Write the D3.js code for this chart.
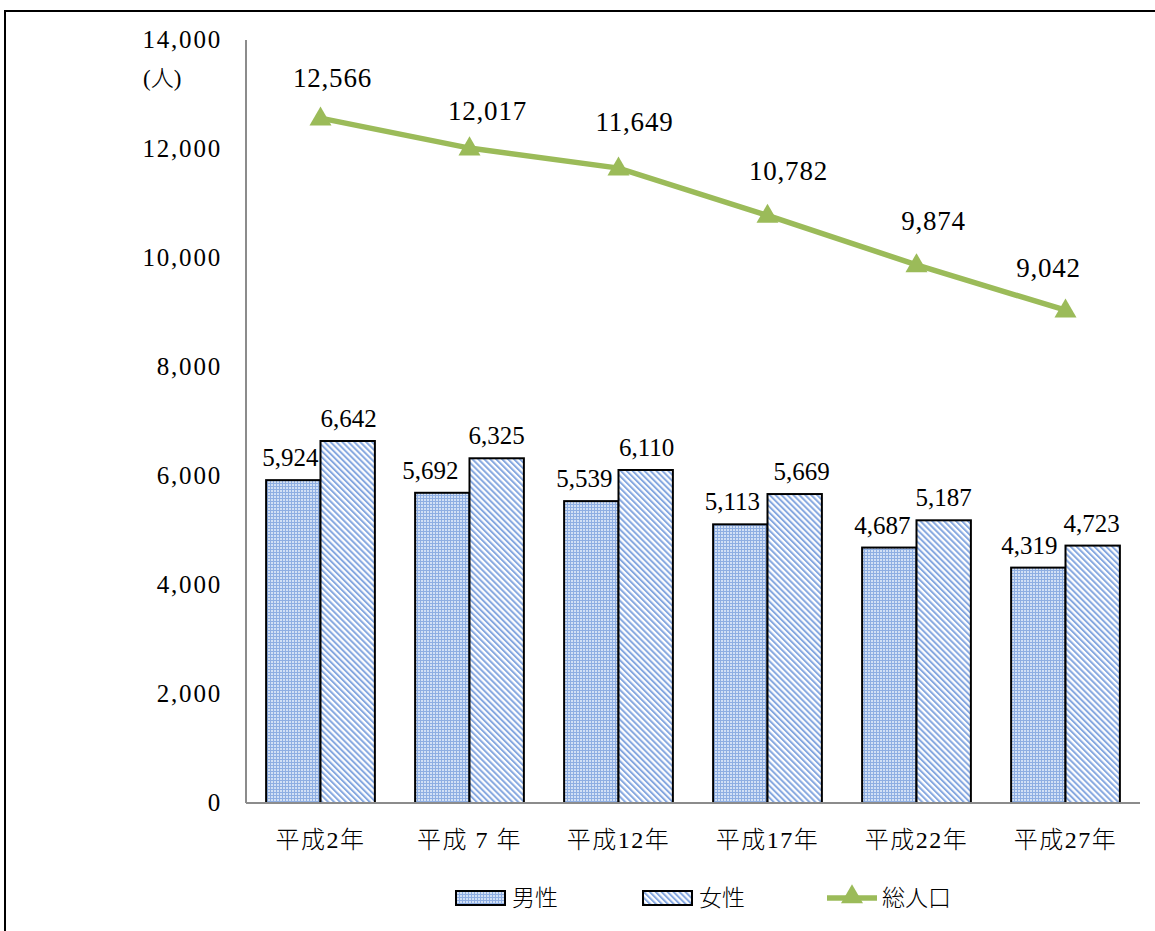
<!DOCTYPE html>
<html>
<head>
<meta charset="utf-8">
<script src="https://cdn.jsdelivr.net/npm/d3@7"></script>
<style>
  html, body { margin: 0; padding: 0; background: #fff; }
  svg { display: block; }
  text { font-family: "Liberation Serif", "Noto Sans CJK JP", serif; fill: #000; font-weight: 300; }
</style>
</head>
<body>
<svg id="chart" width="1155" height="931"></svg>
<script>
// ---- data ----
const categories = ["平成2年", "平成 7 年", "平成12年", "平成17年", "平成22年", "平成27年"];
const male = [5924, 5692, 5539, 5113, 4687, 4319];
const female = [6642, 6325, 6110, 5669, 5187, 4723];
const total = [12566, 12017, 11649, 10782, 9874, 9042];
const yTicks = [0, 2000, 4000, 6000, 8000, 10000, 12000, 14000];
const seriesNames = ["男性", "女性", "総人口"];
const unitLabel = "(人)";

// ---- layout (label nudges, not data) ----
const totalLabelNudge = [[12, -40], [18, -37], [16, -46], [21, -44], [17, -44], [-17, -42]];
const maleLabelDx = [-3, -12, -7, -8, -7, -9];
const femaleLabelDx = [1, 0, 1, 7, 0, -1];

const svg = d3.select("#chart");
const defs = svg.append("defs");

// male: fine dotted grid
const pm = defs.append("pattern").attr("id", "pMale")
  .attr("patternUnits", "userSpaceOnUse").attr("width", 3).attr("height", 3);
pm.append("rect").attr("width", 3).attr("height", 3).attr("fill", "#d2e0f5");
pm.append("rect").attr("x", 0).attr("y", 0).attr("width", 3).attr("height", 1).attr("fill", "#8eaee2");
pm.append("rect").attr("x", 0).attr("y", 0).attr("width", 1).attr("height", 3).attr("fill", "#8eaee2");

// female: wide downward diagonal stripes
const pf = defs.append("pattern").attr("id", "pFemale")
  .attr("patternUnits", "userSpaceOnUse").attr("width", 4.2).attr("height", 4.2)
  .attr("patternTransform", "rotate(-45)");
pf.append("rect").attr("width", 4.2).attr("height", 4.2).attr("fill", "#ffffff");
pf.append("rect").attr("width", 2).attr("height", 4.2).attr("fill", "#86a8e0");

// outer frame
svg.append("rect").attr("x", 5).attr("y", 11).attr("width", 1300).attr("height", 1300)
  .attr("fill", "none").attr("stroke", "#000").attr("stroke-width", 2);

const x0 = 246, x1 = 1140, yBase = 803, yTop = 40;
const x = d3.scaleBand().domain(categories).range([x0, x1]).paddingInner(0.27).paddingOuter(0.135);
const xs = d3.scaleBand().domain(["m", "f"]).range([0, x.bandwidth()]);
const y = d3.scaleLinear().domain([0, 14000]).range([yBase, yTop]);

// y tick labels
svg.append("g").selectAll("text").data(yTicks).join("text")
  .attr("x", 222).attr("y", d => y(d) + 8)
  .attr("text-anchor", "end").attr("font-size", 25).attr("letter-spacing", 1.8)
  .text(d => d3.format(",")(d));

svg.append("text").attr("x", 143).attr("y", 86).attr("font-size", 23).text(unitLabel);

// bars
const bars = svg.append("g");
categories.forEach((c, i) => {
  bars.append("rect").attr("x", x(c) + xs("m")).attr("y", y(male[i]))
    .attr("width", xs.bandwidth()).attr("height", yBase - y(male[i]))
    .attr("fill", "url(#pMale)").attr("stroke", "#000").attr("stroke-width", 2);
  bars.append("rect").attr("x", x(c) + xs("f")).attr("y", y(female[i]))
    .attr("width", xs.bandwidth()).attr("height", yBase - y(female[i]))
    .attr("fill", "url(#pFemale)").attr("stroke", "#000").attr("stroke-width", 2);
});

// axes lines
svg.append("line").attr("x1", x0).attr("x2", x0).attr("y1", yTop).attr("y2", yBase)
  .attr("stroke", "#8c8c8c").attr("stroke-width", 2);
svg.append("line").attr("x1", x0).attr("x2", x1).attr("y1", yBase).attr("y2", yBase)
  .attr("stroke", "#8c8c8c").attr("stroke-width", 2);

// bar labels
const lab = svg.append("g").attr("font-size", 25).attr("text-anchor", "middle");
categories.forEach((c, i) => {
  lab.append("text").attr("x", x(c) + xs("m") + xs.bandwidth() / 2 + maleLabelDx[i])
    .attr("y", y(male[i]) - 14).text(d3.format(",")(male[i]));
  lab.append("text").attr("x", x(c) + xs("f") + xs.bandwidth() / 2 + femaleLabelDx[i])
    .attr("y", y(female[i]) - 14).text(d3.format(",")(female[i]));
});

// category labels
svg.append("g").selectAll("text").data(categories).join("text")
  .attr("x", d => x(d) + x.bandwidth() / 2).attr("y", 848)
  .attr("text-anchor", "middle").attr("font-size", 24).attr("letter-spacing", 1.5)
  .text(d => d);

// total line
const cx = c => x(c) + x.bandwidth() / 2;
const line = d3.line().x((d, i) => cx(categories[i])).y(d => y(d));
svg.append("path").datum(total).attr("d", line)
  .attr("fill", "none").attr("stroke", "#9bbb59").attr("stroke-width", 5.5);
const tri = d3.symbol().type(d3.symbolTriangle).size(210);
svg.append("g").selectAll("path").data(total).join("path")
  .attr("d", tri).attr("fill", "#9bbb59")
  .attr("transform", (d, i) => `translate(${cx(categories[i])},${y(d) + 1})`);
svg.append("g").selectAll("text").data(total).join("text")
  .attr("x", (d, i) => cx(categories[i]) + totalLabelNudge[i][0])
  .attr("y", (d, i) => y(d) + totalLabelNudge[i][1] + 9)
  .attr("text-anchor", "middle").attr("font-size", 27).attr("letter-spacing", 0.8)
  .text(d => d3.format(",")(d));

// legend
const lg = svg.append("g").attr("font-size", 23);
lg.append("rect").attr("x", 456).attr("y", 891).attr("width", 49).attr("height", 14)
  .attr("fill", "url(#pMale)").attr("stroke", "#000").attr("stroke-width", 2);
lg.append("text").attr("x", 512).attr("y", 906).text(seriesNames[0]);
lg.append("rect").attr("x", 643).attr("y", 891).attr("width", 49).attr("height", 14)
  .attr("fill", "url(#pFemale)").attr("stroke", "#000").attr("stroke-width", 2);
lg.append("text").attr("x", 699).attr("y", 906).text(seriesNames[1]);
lg.append("line").attr("x1", 827).attr("x2", 877).attr("y1", 898).attr("y2", 898)
  .attr("stroke", "#9bbb59").attr("stroke-width", 5.5);
lg.append("path").attr("d", tri).attr("fill", "#9bbb59").attr("transform", "translate(852,897)");
lg.append("text").attr("x", 882).attr("y", 906).text(seriesNames[2]);
</script>
</body>
</html>
